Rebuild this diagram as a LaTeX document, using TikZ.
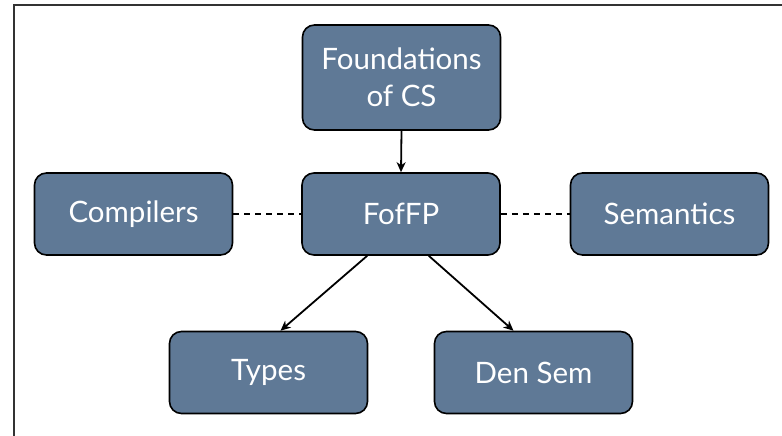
\documentclass[tikz,border=0pt]{standalone}
\usepackage{fontspec}
\setmainfont{Lato}
\usetikzlibrary{arrows.meta}
\definecolor{boxfill}{RGB}{95,121,150}
\begin{document}
\begin{tikzpicture}[x=1pt,y=-1pt,
  topic/.style={draw=black,line width=1.6pt,fill=boxfill,rounded corners=12pt,
    minimum width=198pt,minimum height=82pt,inner sep=0pt,text=white,
    font=\fontsize{29.5}{37}\selectfont,align=center},
  link/.style={line width=1.8pt,-{Stealth[length=10pt,width=9pt,inset=3pt]}},
  peer/.style={line width=1.6pt,dash pattern=on 6pt off 5pt}]
\useasboundingbox (0,0) rectangle (782,436);
\fill[white] (0,0) rectangle (782,436);
\draw[line width=2pt,draw=black!80] (14,436) -- (14,5) -- (782,5);
\node[topic,minimum height=105pt] (fcs) at (401.5,77.5) {Foundations\\of CS};
\node[topic] (fofp) at (401,214) {FofFP};
\node[topic] (comp) at (133.5,214) {Compilers};
\node[topic] (sem) at (669.5,214) {Semantics};
\node[topic] (types) at (268.5,372.5) {Types};
\node[topic] (den) at (533.5,372.5) {Den Sem};
\draw[link] (fcs.south) -- (fofp.north);
\draw[link] ([xshift=66pt]fofp.south west) -- ([xshift=12pt]types.north);
\draw[link] ([xshift=-72pt]fofp.south east) -- ([xshift=-20pt]den.north);
\draw[peer] (comp.east) -- (fofp.west);
\draw[peer] (fofp.east) -- (sem.west);
\end{tikzpicture}
\end{document}
